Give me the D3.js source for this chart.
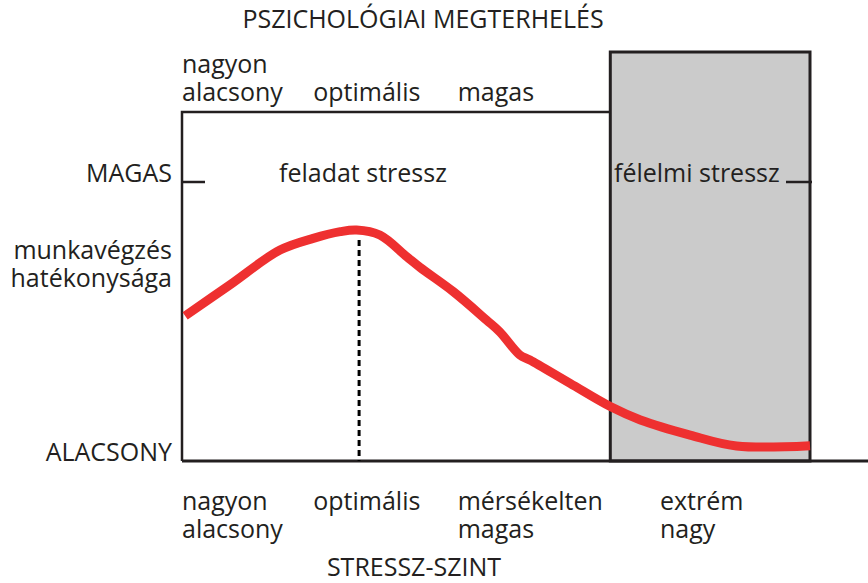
<!DOCTYPE html>
<html>
<head>
<meta charset="utf-8">
<script src="https://cdn.jsdelivr.net/npm/d3@7"></script>
<style>
  body { margin: 0; background: #fff; }
  text { font-family: "Open Sans", "Noto Sans", sans-serif; fill: #231F20; }
</style>
</head>
<body>
<svg id="chart" width="868" height="583"></svg>
<script>
// stress level (0-100) vs work performance (0 = ALACSONY, 100 = MAGAS)
var stressLevel = [0.5, 7.6, 15.6, 20.9, 25.2, 27.8, 31.5, 35.8, 37.9, 43.2, 48.5, 50.6, 53.8, 55.4, 61.8, 68.2, 73.0, 80.9, 88.3, 100];
var performance = [52.0, 63.1, 75.6, 79.8, 82.2, 82.8, 81.0, 73.2, 69.4, 60.7, 50.5, 46.3, 38.0, 36.2, 27.8, 19.5, 14.7, 9.3, 5.4, 5.5];

var bottomCategories = [["nagyon", "alacsony"], ["optimális"], ["mérsékelten", "magas"], ["extrém", "nagy"]];
var bottomCategoryAt = [0, 20.9, 43.9, 76.1];
var topCategories = [["nagyon", "alacsony"], ["optimális"], ["magas"]];
var topCategoryAt = [0, 20.9, 43.9];

var yTicks = ["ALACSONY", "MAGAS"];
var optimum = 28.2;      // dotted line
var fearStart = 68.2;    // gray "félelmi stressz" zone

var INK = '#231F20';
var RED = '#EE3030';
var FS = 25;
var LEAD = 28;

var svg = d3.select('#chart');

var x = d3.scaleLinear().domain([0, 100]).range([182, 810]);
var y = d3.scaleLinear().domain([0, 100]).range([461, 182]);
var frameTop = 112, boxTop = 52;

// gray zone
svg.append('rect')
    .attr('x', x(fearStart))
    .attr('y', boxTop)
    .attr('width', x(100) - x(fearStart))
    .attr('height', y(0) - boxTop)
    .attr('fill', '#CBCBCB')
    .attr('stroke', INK)
    .attr('stroke-width', 3);

// frame: top line + left axis
svg.append('path')
    .attr('d', 'M' + x(fearStart) + ',' + frameTop + 'H' + x(0) + 'V' + y(0))
    .attr('fill', 'none')
    .attr('stroke', INK)
    .attr('stroke-width', 2.5);

// bottom axis line
svg.append('line')
    .attr('x1', x(0)).attr('x2', 868)
    .attr('y1', y(0)).attr('y2', y(0))
    .attr('stroke', INK)
    .attr('stroke-width', 3);

// MAGAS ticks on both sides
svg.append('line')
    .attr('x1', x(0)).attr('x2', x(0) + 23)
    .attr('y1', y(100)).attr('y2', y(100))
    .attr('stroke', INK).attr('stroke-width', 2.5);
svg.append('line')
    .attr('x1', x(100) - 24).attr('x2', x(100) + 2)
    .attr('y1', y(100)).attr('y2', y(100))
    .attr('stroke', INK).attr('stroke-width', 2.5);

// dotted optimum line
var peak = d3.max(performance);
svg.append('line')
    .attr('x1', x(optimum)).attr('x2', x(optimum))
    .attr('y1', y(peak) + 10).attr('y2', y(0))
    .attr('stroke', '#000')
    .attr('stroke-width', 3)
    .attr('stroke-dasharray', '6,4');

// performance curve
var line = d3.line()
    .x(function (d, i) { return x(stressLevel[i]); })
    .y(function (d) { return y(d); })
    .curve(d3.curveCatmullRom.alpha(0.5));

svg.append('path')
    .datum(performance)
    .attr('d', line)
    .attr('fill', 'none')
    .attr('stroke', RED)
    .attr('stroke-width', 9)
    .attr('stroke-linejoin', 'round');

// labels, one text element per line
function label(s, px, py, anchor) {
  return svg.append('text')
      .attr('x', px).attr('y', py)
      .attr('text-anchor', anchor || 'start')
      .style('font-size', FS + 'px')
      .text(s);
}
function multiline(lines, px, py, anchor) {
  lines.forEach(function (s, i) { label(s, px, py + i * LEAD, anchor); });
}

label('PSZICHOLÓGIAI MEGTERHELÉS', 423, 28, 'middle');

topCategories.forEach(function (c, i) {
  multiline(c, x(topCategoryAt[i]), c.length > 1 ? 73 : 101);
});

bottomCategories.forEach(function (c, i) {
  multiline(c, x(bottomCategoryAt[i]), 510);
});

label('STRESSZ-SZINT', 414, 576, 'middle');
label('feladat stressz', 279, 182);
label('félelmi stressz', 614, 182);

// y labels
label(yTicks[1], 172, y(100), 'end');
label(yTicks[0], 172, y(0), 'end');
multiline(['munkavégzés', 'hatékonysága'], 172, 259, 'end');
</script>
</body>
</html>
